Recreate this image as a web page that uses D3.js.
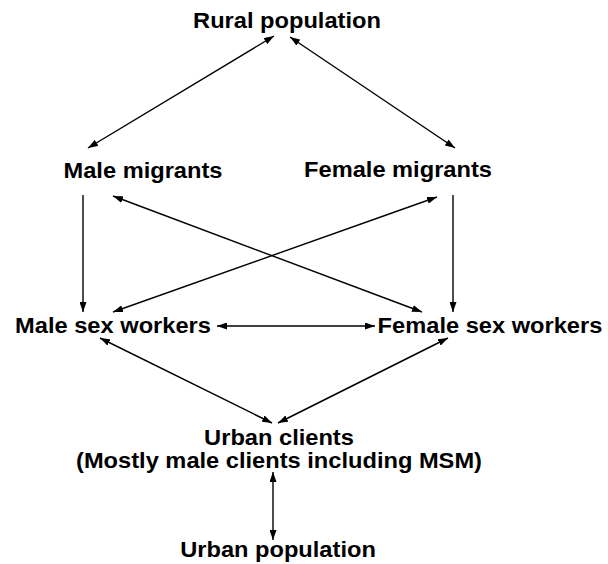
<!DOCTYPE html>
<html>
<head>
<meta charset="utf-8">
<script src="https://cdn.jsdelivr.net/npm/d3@7"></script>
<style>
  body { margin: 0; background: #fff; }
  .label { font-family: "Liberation Sans", Arial, sans-serif; font-weight: bold; font-size: 21.5px; fill: #000; }
  .link { stroke: #000; stroke-width: 1.4px; fill: none; }
</style>
</head>
<body>
<div id="chart"></div>
<script>
// node labels
var labels = ["Rural population", "Male migrants", "Female migrants",
              "Male sex workers", "Female sex workers", "Urban clients",
              "(Mostly male clients including MSM)", "Urban population"];

// links: [from, to, arrowhead at both ends?]
var links = [
    ["Rural population", "Male migrants", true],
    ["Rural population", "Female migrants", true],
    ["Male migrants", "Male sex workers", false],
    ["Female migrants", "Female sex workers", false],
    ["Male migrants", "Female sex workers", true],
    ["Female migrants", "Male sex workers", true],
    ["Male sex workers", "Female sex workers", true],
    ["Male sex workers", "Urban clients", true],
    ["Female sex workers", "Urban clients", true],
    ["Urban clients", "Urban population", true]
];

// layout (label centre + baseline), in picture units
var labelPos = {
    "Rural population": [287, 28],
    "Male migrants": [143, 178],
    "Female migrants": [398, 177],
    "Male sex workers": [113, 333],
    "Female sex workers": [490, 333],
    "Urban clients": [279, 445],
    "(Mostly male clients including MSM)": [279, 468],
    "Urban population": [278, 557]
};

// link end points (start tip, end tip), same order as links
var linkEnds = [
    [[274, 36], [88, 148]],
    [[290, 37], [455, 148]],
    [[83, 195], [83, 312]],
    [[453, 195], [453, 312]],
    [[113, 196], [422, 312]],
    [[437, 197], [113, 312]],
    [[217, 326], [375, 326]],
    [[100, 338], [272, 423]],
    [[448, 338], [278, 423]],
    [[273, 472], [273, 540]]
];

var width = 608, height = 564;

var svg = d3.select("#chart").append("svg")
    .attr("width", width)
    .attr("height", height);

var x = d3.scaleLinear().domain([0, 608]).range([0, width]);
var y = d3.scaleLinear().domain([0, 564]).range([0, height]);

svg.append("defs").append("marker")
    .attr("id", "head")
    .attr("viewBox", "0 0 10 7")
    .attr("refX", 10)
    .attr("refY", 3.5)
    .attr("markerWidth", 10)
    .attr("markerHeight", 7)
    .attr("markerUnits", "userSpaceOnUse")
    .attr("orient", "auto-start-reverse")
  .append("path")
    .attr("d", "M0,0L10,3.5L0,7Z")
    .attr("fill", "#000");

var line = d3.line()
    .x(function(d) { return x(d[0]); })
    .y(function(d) { return y(d[1]); });

svg.selectAll(".link")
    .data(links)
    .enter()
    .append("path").attr("class", "link")
    .attr("d", function(d, i) { return line(linkEnds[i]); })
    .attr("marker-end", "url(#head)")
    .attr("marker-start", function(d) { return d[2] ? "url(#head)" : null; });

svg.selectAll(".label")
    .data(labels)
    .enter()
    .append("text").attr("class", "label")
    .attr("text-anchor", "middle")
    .attr("transform", function(d) {
        var p = labelPos[d];
        return "translate(" + x(p[0]) + "," + y(p[1]) + ") scale(1.1,1)";
    })
    .text(function(d) { return d; });
</script>
</body>
</html>
